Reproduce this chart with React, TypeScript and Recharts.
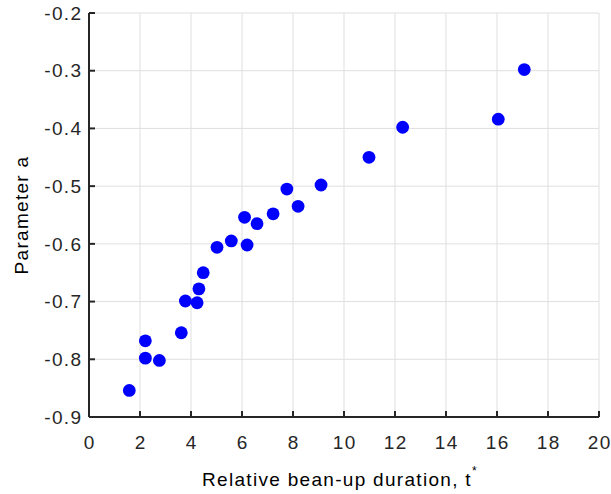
import React from 'react';
import {
  ScatterChart,
  Scatter,
  XAxis,
  YAxis,
  CartesianGrid,
  Label,
} from 'recharts';

// relative bean-up duration t* and fitted parameter a
const durations = [
  1.58, 2.21, 2.21, 2.76, 3.62, 3.78, 4.24, 4.31, 4.48, 5.02, 5.58,
  6.1, 6.2, 6.59, 7.22, 7.76, 8.2, 9.1, 10.98, 12.3, 16.05, 17.07,
];
const paramA = [
  -0.854, -0.768, -0.798, -0.802, -0.754, -0.699, -0.702, -0.678, -0.65, -0.606, -0.595,
  -0.554, -0.602, -0.565, -0.548, -0.505, -0.535, -0.498, -0.45, -0.398, -0.384, -0.298,
];
const xTicks = [0, 2, 4, 6, 8, 10, 12, 14, 16, 18, 20];
const yTicks = [-0.9, -0.8, -0.7, -0.6, -0.5, -0.4, -0.3, -0.2];

const data = durations.map((t, i) => ({ t, a: paramA[i] }));

const FONT = '"Liberation Sans", Arial, Helvetica, sans-serif';
const INK = '#262626';
const SPACING = 1.3;
const TICK_GAP_X = 19;
const TICK_GAP_Y = 8;

const XTick = (props: any) => {
  const { x, y, payload } = props;
  const axisY = y - TICK_GAP_X;
  return (
    <g>
      <line x1={x} y1={axisY} x2={x} y2={axisY - 6} stroke={INK} strokeWidth={2} />
      <text
        x={x + SPACING / 2}
        y={y}
        dy="0.71em"
        textAnchor="middle"
        fill={INK}
        fontSize={19}
        fontFamily={FONT}
        letterSpacing={SPACING}
      >
        {payload.value}
      </text>
    </g>
  );
};

const YTick = (props: any) => {
  const { x, y, payload } = props;
  const axisX = x + TICK_GAP_Y;
  return (
    <g>
      <line x1={axisX} y1={y} x2={axisX + 6} y2={y} stroke={INK} strokeWidth={2} />
      <text
        x={x + SPACING}
        y={y}
        dy="0.355em"
        textAnchor="end"
        fill={INK}
        fontSize={19}
        fontFamily={FONT}
        letterSpacing={SPACING}
      >
        {payload.value.toFixed(1)}
      </text>
    </g>
  );
};

const XTitle = (props: any) => {
  const vb = props.viewBox;
  return (
    <text
      x={vb.x + vb.width / 2 - 4}
      y={vb.y + 69}
      textAnchor="middle"
      fill="#000"
      fontSize={19}
      fontFamily={FONT}
      letterSpacing={SPACING}
    >
      Relative bean-up duration, t
      <tspan dy={-11} fontSize={12}>*</tspan>
    </text>
  );
};

const YTitle = (props: any) => {
  const vb = props.viewBox;
  const cx = 28;
  const cy = vb.y + vb.height / 2;
  return (
    <text
      x={cx}
      y={cy}
      transform={`rotate(-90, ${cx}, ${cy})`}
      textAnchor="middle"
      fill="#000"
      fontSize={19}
      fontFamily={FONT}
      letterSpacing={SPACING}
    >
      Parameter a
    </text>
  );
};

const Dot = (props: any) => <circle cx={props.cx} cy={props.cy} r={6.4} fill="#0000ff" />;

export default function App() {
  return (
    <div style={{ position: 'absolute', left: 0, top: 0, background: '#fff' }}>
      <ScatterChart width={611} height={494} margin={{ top: 13, right: 12, bottom: 17, left: 29 }}>
        <CartesianGrid stroke="#dfdfdf" strokeWidth={1} />
        <XAxis
          type="number"
          dataKey="t"
          domain={[0, 20]}
          ticks={xTicks}
          height={60}
          tickSize={0}
          tickMargin={TICK_GAP_X}
          tick={XTick}
          axisLine={{ stroke: INK, strokeWidth: 2 }}
          interval={0}
        >
          <Label content={XTitle} />
        </XAxis>
        <YAxis
          type="number"
          dataKey="a"
          domain={[-0.9, -0.2]}
          ticks={yTicks}
          width={60}
          tickSize={0}
          tickMargin={TICK_GAP_Y}
          tick={YTick}
          axisLine={{ stroke: INK, strokeWidth: 2 }}
          interval={0}
        >
          <Label content={YTitle} />
        </YAxis>
        <Scatter data={data} shape={Dot} isAnimationActive={false} />
      </ScatterChart>
    </div>
  );
}
